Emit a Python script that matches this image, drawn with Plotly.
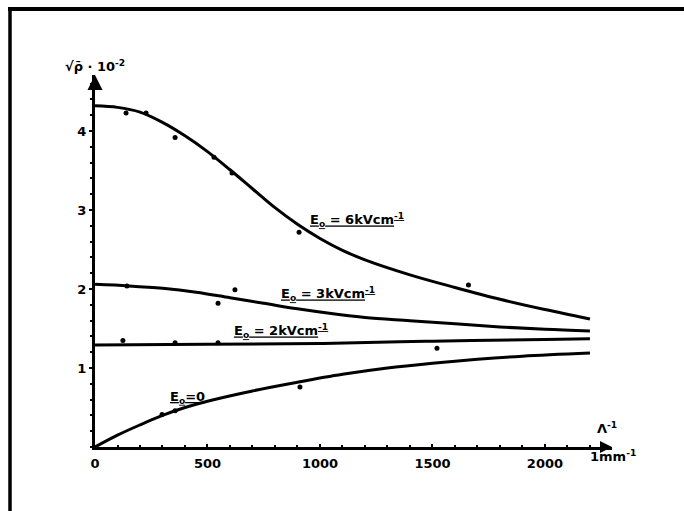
import plotly.graph_objects as go

# ---- data ----
x_curve_6 = [0, 100, 200, 300, 400, 500, 600, 700, 800, 900, 1000, 1100, 1200, 1400, 1600, 1800, 2000, 2200]
y_curve_6 = [4.32, 4.30, 4.24, 4.11, 3.94, 3.74, 3.51, 3.27, 3.03, 2.82, 2.64, 2.49, 2.37, 2.18, 2.02, 1.87, 1.74, 1.62]
x_pts_6 = [138, 227, 356, 529, 609, 907, 1660]
y_pts_6 = [4.23, 4.23, 3.92, 3.67, 3.47, 2.72, 2.05]

x_curve_3 = [0, 150, 300, 450, 600, 750, 900, 1050, 1200, 1400, 1600, 1800, 2000, 2200]
y_curve_3 = [2.06, 2.04, 2.01, 1.96, 1.89, 1.82, 1.75, 1.69, 1.64, 1.60, 1.56, 1.52, 1.49, 1.47]
x_pts_3 = [142, 547, 622]
y_pts_3 = [2.04, 1.82, 1.99]

x_curve_2 = [0, 500, 1000, 1500, 2000, 2200]
y_curve_2 = [1.29, 1.30, 1.31, 1.34, 1.36, 1.37]
x_pts_2 = [124, 356, 547, 1520]
y_pts_2 = [1.35, 1.32, 1.32, 1.25]

x_curve_0 = [0, 100, 200, 300, 400, 500, 700, 900, 1100, 1300, 1500, 1700, 1900, 2200]
y_curve_0 = [0.0, 0.15, 0.28, 0.40, 0.50, 0.58, 0.71, 0.82, 0.92, 1.00, 1.06, 1.11, 1.15, 1.19]
x_pts_0 = [298, 356, 911]
y_pts_0 = [0.41, 0.46, 0.76]

curve_labels = ["E<sub>o</sub> = 6kVcm<sup>-1</sup>", "E<sub>o</sub> = 3kVcm<sup>-1</sup>",
                "E<sub>o</sub> = 2kVcm<sup>-1</sup>", "E<sub>o</sub>=0"]
label_x = [1164, 1036, 827, 413]
label_y = [2.87, 1.94, 1.47, 0.63]

x_ticks = [0, 500, 1000, 1500, 2000]
y_ticks = [1, 2, 3, 4]
x_max = 2298
y_max = 4.71

# ---- figure ----
fig = go.Figure()
curves = [(x_curve_6, y_curve_6, x_pts_6, y_pts_6),
          (x_curve_3, y_curve_3, x_pts_3, y_pts_3),
          (x_curve_2, y_curve_2, x_pts_2, y_pts_2),
          (x_curve_0, y_curve_0, x_pts_0, y_pts_0)]
for xc, yc, xp, yp in curves:
    fig.add_trace(go.Scatter(x=xc, y=yc, mode="lines",
                             line=dict(color="black", width=3, shape="spline", smoothing=1.0),
                             showlegend=False, hoverinfo="skip", cliponaxis=False))
    fig.add_trace(go.Scatter(x=xp, y=yp, mode="markers",
                             marker=dict(color="black", size=5),
                             showlegend=False, hoverinfo="skip", cliponaxis=False))

lblfont = dict(family="DejaVu Sans", size=13, color="black", weight="bold")
for txt, lx, ly in zip(curve_labels, label_x, label_y):
    fig.add_annotation(x=lx, y=ly, xref="x", yref="y", showarrow=False,
                       xanchor="center", yanchor="middle",
                       text="<u>" + txt + "</u>", font=lblfont)

# axis arrows
fig.add_annotation(x=x_max, y=0, ax=x_max - 60, ay=0, xref="x", yref="y", axref="x", ayref="y",
                   showarrow=True, arrowhead=2, arrowsize=1.2, arrowwidth=2, arrowcolor="black", text="")
fig.add_annotation(x=0, y=y_max, ax=0, ay=y_max - 0.2, xref="x", yref="y", axref="x", ayref="y",
                   showarrow=True, arrowhead=2, arrowsize=1.2, arrowwidth=2.5, arrowcolor="black", text="")

# axis titles
fig.add_annotation(x=0.0, y=1.024, xref="paper", yref="paper", showarrow=False,
                   xanchor="center", yanchor="middle",
                   text="√ρ̄ · 10<sup>-2</sup>", font=lblfont)
fig.add_annotation(x=0.990, y=0.05, xref="paper", yref="paper", showarrow=False,
                   xanchor="center", yanchor="middle",
                   text="Λ<sup>-1</sup>", font=lblfont)
fig.add_annotation(x=1.002, y=-0.025, xref="paper", yref="paper", showarrow=False,
                   xanchor="center", yanchor="middle",
                   text="1mm<sup>-1</sup>", font=lblfont)

# frame (top and left rules)
W, H = 684, 511
L, R, T, B = 95, 684 - 612, 75, 511 - 447
pw, ph = W - L - R, H - T - B
def px2x(px):
    return (px - L) / pw
def py2y(py):
    return (H - B - py) / ph
fig.add_shape(type="line", xref="paper", yref="paper",
              x0=px2x(8), x1=px2x(684), y0=py2y(9), y1=py2y(9),
              line=dict(color="black", width=4))
fig.add_shape(type="line", xref="paper", yref="paper",
              x0=px2x(10), x1=px2x(10), y0=py2y(9), y1=py2y(511),
              line=dict(color="black", width=3.5))

tickfont = dict(family="DejaVu Sans", size=13, color="black", weight="bold")
fig.update_xaxes(range=[0, x_max], tickvals=x_ticks, ticktext=[str(v) for v in x_ticks],
                 showline=True, linecolor="black", linewidth=2.5, ticks="inside", ticklen=3,
                 tickcolor="black", tickwidth=1.5,
                 minor=dict(ticks="inside", dtick=100, ticklen=2, tickcolor="black", tickwidth=1.5),
                 showgrid=False, zeroline=False, tickfont=tickfont, ticklabelstandoff=3)
fig.update_yaxes(range=[0, y_max], tickvals=y_ticks, ticktext=[str(v) for v in y_ticks],
                 showline=True, linecolor="black", linewidth=3, ticks="outside", ticklen=3,
                 tickcolor="black", tickwidth=2,
                 minor=dict(ticks="outside", dtick=0.2, ticklen=2, tickcolor="black", tickwidth=2),
                 showgrid=False, zeroline=False, tickfont=tickfont)
fig.update_layout(width=W, height=H, margin=dict(l=L, r=R, t=T, b=B),
                  paper_bgcolor="white", plot_bgcolor="white", showlegend=False)
fig.write_html("out.html")
